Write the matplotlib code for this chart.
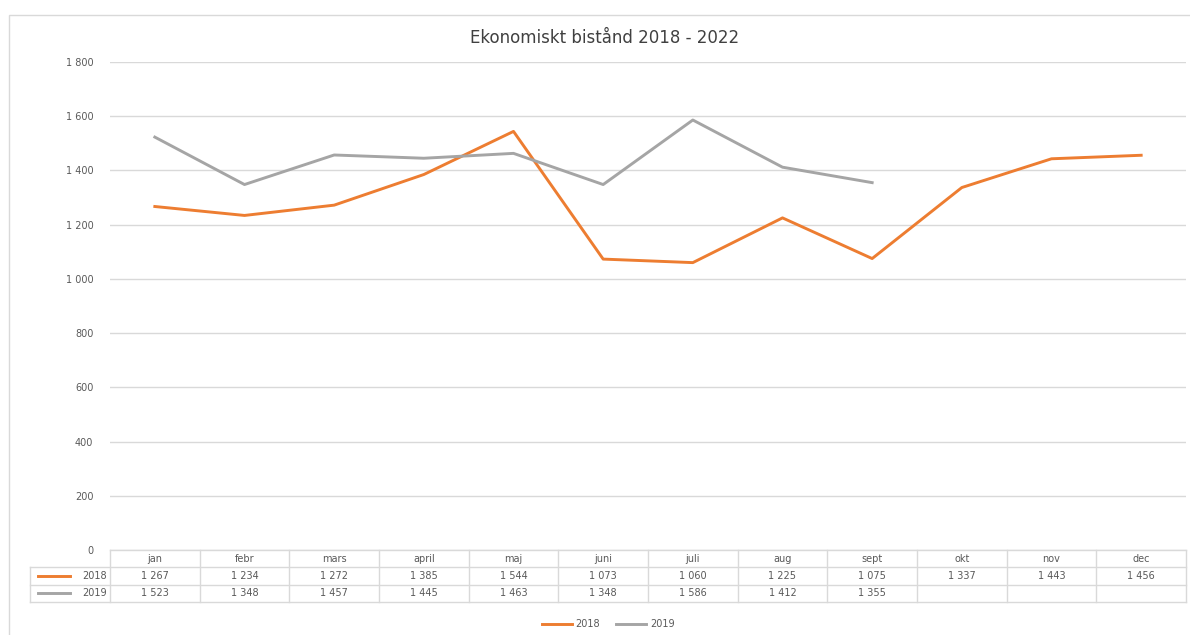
import matplotlib
matplotlib.use("Agg")
import matplotlib.pyplot as plt
import numpy as np
from matplotlib.patches import Rectangle
from matplotlib.lines import Line2D

MONTHS = ["jan", "febr", "mars", "april", "maj", "juni", "juli", "aug", "sept", "okt", "nov", "dec"]
VALUES_2018 = [1267, 1234, 1272, 1385, 1544, 1073, 1060, 1225, 1075, 1337, 1443, 1456]
VALUES_2019 = [1523, 1348, 1457, 1445, 1463, 1348, 1586, 1412, 1355, None, None, None]
SERIES = [("2018", VALUES_2018, "#ED7D31"), ("2019", VALUES_2019, "#A5A5A5")]
YTICKS = [0, 200, 400, 600, 800, 1000, 1200, 1400, 1600, 1800]

TXT = "#595959"
GRID = "#D9D9D9"
FS = 7


def fmt(v):
    return "" if v is None else f"{v:,}".replace(",", " ")


def main():
    fig = plt.figure(figsize=(11.9, 6.35), dpi=100)
    ax = fig.add_axes([110 / 1190, 85 / 635, 1076 / 1190, 488 / 635])

    # outer chart border
    fig.patches.append(Rectangle((9 / 1190, -0.01), 1.0, (635 - 15) / 635 + 0.01,
                                 transform=fig.transFigure, fill=False,
                                 edgecolor="#D9D9D9", linewidth=1.0))

    x = np.arange(len(MONTHS)) + 0.5
    for name, vals, col in SERIES:
        xs = [xi for xi, v in zip(x, vals) if v is not None]
        ys = [v for v in vals if v is not None]
        ax.plot(xs, ys, color=col, linewidth=2.1, solid_joinstyle="round")

    ax.set_xlim(0, len(MONTHS))
    ax.set_ylim(0, 1800)
    ax.set_yticks(YTICKS)
    ax.set_yticklabels([fmt(v) for v in YTICKS], fontsize=FS, color=TXT)
    ax.tick_params(axis="y", length=0, pad=12)
    ax.set_xticks([])
    for s in ax.spines.values():
        s.set_visible(False)
    ax.grid(axis="y", color=GRID, linewidth=1.0)
    ax.set_axisbelow(True)

    fig.text(605 / 1190, 1 - 38 / 635, "Ekonomiskt bistånd 2018 - 2022",
             fontsize=12, color="#404040", ha="center", va="center")

    # data table below the plot
    trans = ax.get_xaxis_transform()
    h = 17.3 / 488
    left = -80 / (1076 / 12)
    kw = dict(transform=trans, clip_on=False, color=GRID, linewidth=1.0)
    ax.add_line(Line2D([0, 12], [0, 0], **kw))
    ax.add_line(Line2D([left, 12], [-h, -h], **kw))
    ax.add_line(Line2D([left, 12], [-2 * h, -2 * h], **kw))
    ax.add_line(Line2D([left, 12], [-3 * h, -3 * h], **kw))
    for i in range(13):
        ax.add_line(Line2D([i, i], [0, -3 * h], **kw))
    ax.add_line(Line2D([left, left], [-h, -3 * h], **kw))

    for i, m in enumerate(MONTHS):
        ax.text(i + 0.5, -0.5 * h, m, transform=trans, ha="center", va="center",
                fontsize=FS, color=TXT, clip_on=False)
    for r, (name, vals, col) in enumerate(SERIES):
        yc = -(r + 1.5) * h
        for i, v in enumerate(vals):
            ax.text(i + 0.5, yc, fmt(v), transform=trans, ha="center", va="center",
                    fontsize=FS, color=TXT, clip_on=False)
        ax.add_line(Line2D([left + 0.09, left + 0.45], [yc, yc], transform=trans,
                           clip_on=False, color=col, linewidth=2.1))
        ax.text(-0.03, yc, name, transform=trans, ha="right", va="center",
                fontsize=FS, color=TXT, clip_on=False)

    handles = [Line2D([], [], color=col, linewidth=2.1) for _, _, col in SERIES]
    fig.legend(handles, [n for n, _, _ in SERIES], loc="center", ncol=2,
               bbox_to_anchor=(608 / 1190, 11 / 635), frameon=False, fontsize=FS,
               labelcolor=TXT, handlelength=3.1, handletextpad=0.35, columnspacing=1.7)

    fig.savefig("out.png", dpi=100)


if __name__ == "__main__":
    main()
